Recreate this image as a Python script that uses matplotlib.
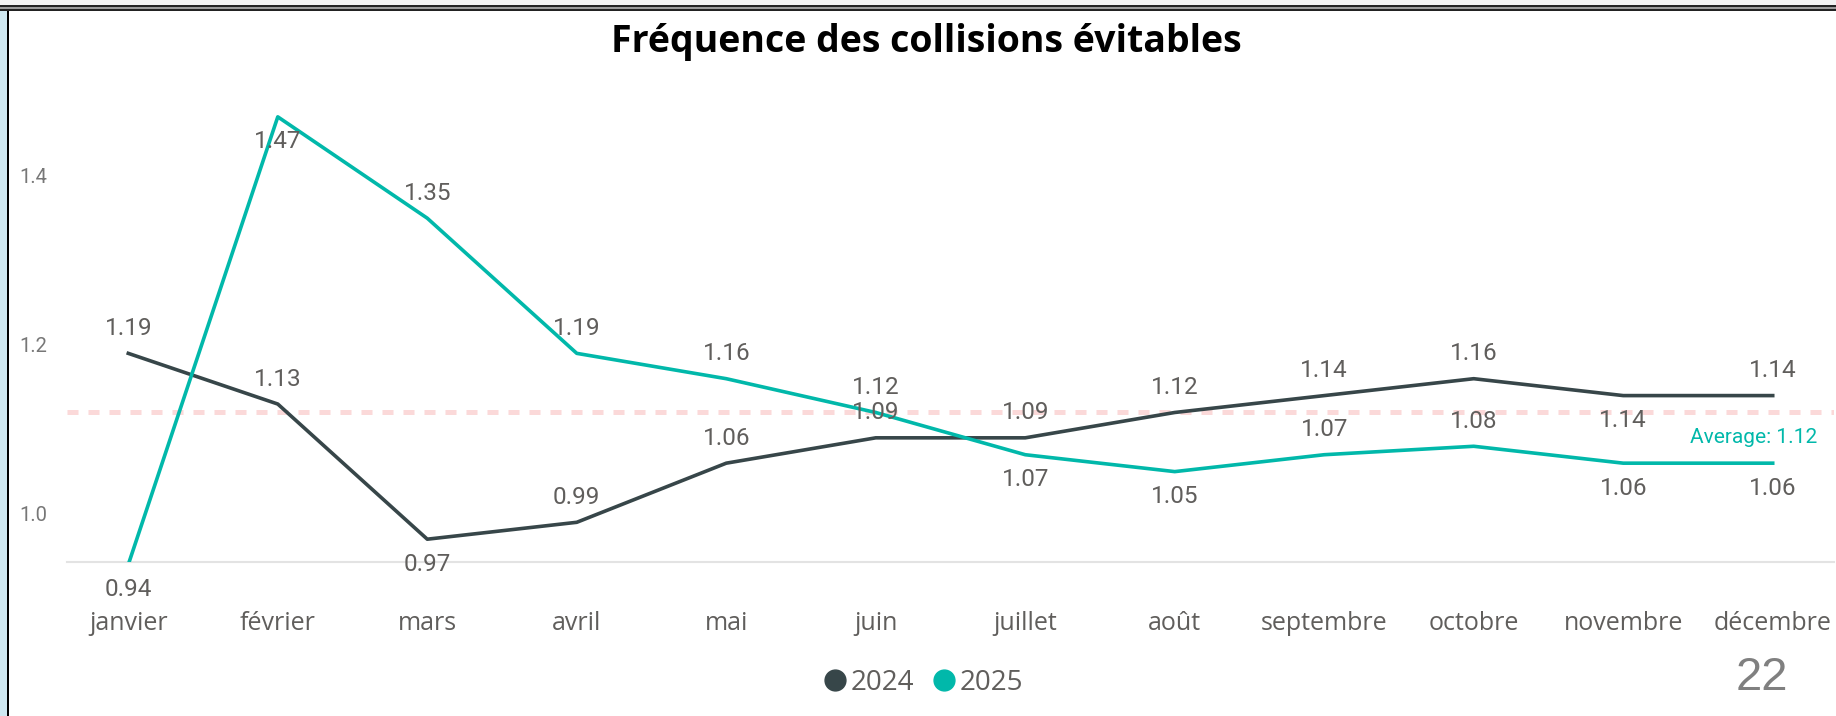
import matplotlib
matplotlib.use('Agg')
import matplotlib.pyplot as plt
from matplotlib.lines import Line2D
from matplotlib.patches import Rectangle

months = ['janvier', 'février', 'mars', 'avril', 'mai', 'juin',
          'juillet', 'août', 'septembre', 'octobre', 'novembre', 'décembre']
freq_2024 = [1.19, 1.13, 0.97, 0.99, 1.06, 1.09, 1.09, 1.12, 1.14, 1.16, 1.14, 1.14]
freq_2025 = [0.94, 1.47, 1.35, 1.19, 1.16, 1.12, 1.07, 1.05, 1.07, 1.08, 1.06, 1.06]
average = 1.12
y_ticks = [1.0, 1.2, 1.4]
page_number = '22'

# where each data label sits: 1 above the point, -1 below
side_2024 = [1, 1, -1, 1, 1, 1, 1, 1, 1, 1, -1, 1]
side_2025 = [-1, -1, 1, 1, 1, 1, -1, -1, 1, 1, -1, -1]

dark = '#374649'
teal = '#01B8AA'
label_grey = '#605E5C'

W, H = 1836, 716
fig = plt.figure(figsize=(W / 100, H / 100), dpi=100)

# page frame bits (left strip + top rule)
fig.patches.append(Rectangle((0, 0), 7 / W, 1, transform=fig.transFigure,
                             facecolor='#cfe8f1', edgecolor='none'))
fig.patches.append(Rectangle((7 / W, 0), 2 / W, 1 - 5 / H, transform=fig.transFigure,
                             facecolor='black', edgecolor='none'))
fig.patches.append(Rectangle((0, 1 - 5 / H), 1, 5 / H, transform=fig.transFigure,
                             facecolor='#f2f2f2', edgecolor='none'))
fig.patches.append(Rectangle((0, 1 - 11 / H), 1, 6 / H, transform=fig.transFigure,
                             facecolor='#222222', edgecolor='none'))
fig.patches.append(Rectangle((0, 1 - 8.5 / H), 1, 1.2 / H, transform=fig.transFigure,
                             facecolor='#9a9a9a', edgecolor='none'))

ax = fig.add_axes([67 / W, 154 / H, 1767 / W, 470.5 / H])
x = list(range(len(months)))

ax.axhline(average, color='#fbd9d9', lw=3.6, dashes=(2.2, 2.0), zorder=1)
ax.plot(x, freq_2024, color=dark, lw=2.6, zorder=3)
ax.plot(x, freq_2025, color=teal, lw=2.6, zorder=3)

for vals, sides in [(freq_2024, side_2024), (freq_2025, side_2025)]:
    for xi, v, s in zip(x, vals, sides):
        ax.annotate(f'{v:.2f}', (xi, v), xytext=(0, 18 * s), textcoords='offset points',
                    ha='center', va='center', fontsize=17.5, color=label_grey,
                    family='Roboto', annotation_clip=False, zorder=4)

ax.annotate(f'Average: {average:.2f}', (1, average), xycoords=('axes fraction', 'data'),
            xytext=(-12, -18), textcoords='offset points', ha='right', va='center',
            fontsize=15, color=teal, family='Roboto')

ax.set_xlim(-0.41, 11.41)
ax.set_ylim(0.943, 1.5)
ax.set_xticks(x)
ax.set_xticklabels(months, family='Open Sans', fontsize=18, color=label_grey)
ax.set_yticks(y_ticks)
ax.set_yticklabels([f'{t:.1f}' for t in y_ticks], family='Roboto', fontsize=14.5, color='#777777')
ax.tick_params(axis='x', length=0, pad=35)
ax.tick_params(axis='y', length=0, pad=14)
for side in ['top', 'right', 'left']:
    ax.spines[side].set_visible(False)
ax.spines['bottom'].set_color('#e3e3e3')
ax.spines['bottom'].set_linewidth(1.5)
ax.patch.set_alpha(0)

fig.text(926 / W, 1 - 42 / H, 'Fréquence des collisions évitables', ha='center', va='center',
         fontsize=27, fontweight='bold', family='Open Sans', color='black')

handles = [Line2D([], [], ls='none', marker='o', markersize=15, color=dark),
           Line2D([], [], ls='none', marker='o', markersize=15, color=teal)]
fig.legend(handles, ['2024', '2025'], loc='center', bbox_to_anchor=(922 / W, 1 - 683 / H),
           ncol=2, frameon=False, handletextpad=0.05, columnspacing=0.6, handlelength=1.0,
           prop={'family': 'Open Sans', 'size': 20}, labelcolor=label_grey)

fig.text(1762 / W, 1 - 678 / H, page_number, ha='center', va='center',
         fontsize=34, family='Liberation Sans', color='#808080')

fig.savefig('out.png', dpi=100)
